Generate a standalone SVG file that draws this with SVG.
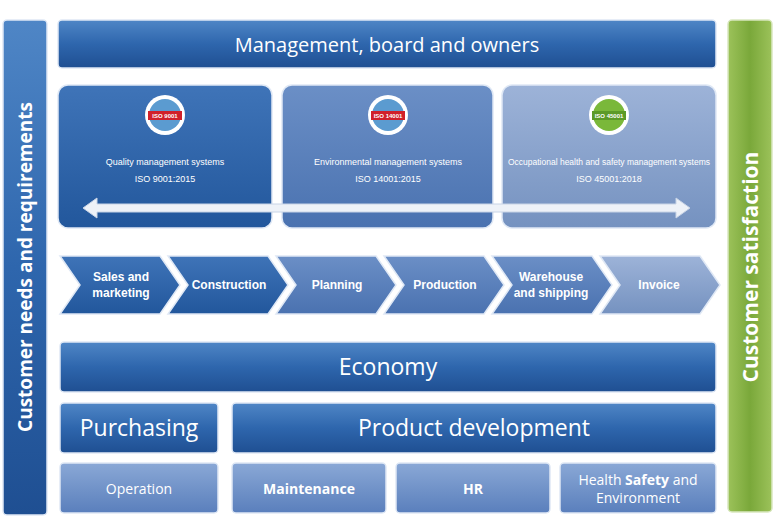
<svg xmlns="http://www.w3.org/2000/svg" width="777" height="526" viewBox="0 0 777 526">
<defs>
<linearGradient id="gb" x1="0" y1="0" x2="0" y2="1"><stop offset="0" stop-color="#4f86c6"/><stop offset="0.5" stop-color="#2e66ad"/><stop offset="1" stop-color="#1f4f92"/></linearGradient>
<linearGradient id="gl" x1="0" y1="0" x2="0" y2="1"><stop offset="0" stop-color="#8aa8d6"/><stop offset="1" stop-color="#5a7fbc"/></linearGradient>
<linearGradient id="gg" x1="0" y1="0" x2="1" y2="0"><stop offset="0" stop-color="#9cc25a"/><stop offset="0.5" stop-color="#7aa83a"/><stop offset="1" stop-color="#9cc25a"/></linearGradient>
<linearGradient id="b1" x1="0" y1="0" x2="0" y2="1"><stop offset="0" stop-color="#3f74b8"/><stop offset="1" stop-color="#22579c"/></linearGradient>
<linearGradient id="b2" x1="0" y1="0" x2="0" y2="1"><stop offset="0" stop-color="#6b8fc6"/><stop offset="1" stop-color="#4a72b0"/></linearGradient>
<linearGradient id="b3" x1="0" y1="0" x2="0" y2="1"><stop offset="0" stop-color="#9db3d8"/><stop offset="1" stop-color="#7592c0"/></linearGradient>
</defs>
<style>
.t{font-family:"Open Sans","Liberation Sans",sans-serif;fill:#fff;text-anchor:middle}
.s{font-family:"Liberation Sans",sans-serif;fill:#fff;text-anchor:middle;font-size:9px}
.c{font-family:"Liberation Sans",sans-serif;fill:#fff;text-anchor:middle;font-size:12px;font-weight:bold}
.bx{stroke:#dfe8f5;stroke-width:1.5}
</style>
<g id="left"><rect x="3" y="20" width="44" height="495" rx="4" fill="url(#gb)" class="bx"/><text class="t" font-size="19" font-weight="bold" transform="translate(32,267) rotate(-90)">Customer needs and requirements</text></g>
<g id="right"><rect x="728" y="20" width="44" height="492" rx="4" fill="url(#gg)" stroke="#d9e8c0" stroke-width="1.5"/><text class="t" font-size="21" font-weight="bold" transform="translate(758,267) rotate(-90)">Customer satisfaction</text></g>
<g id="mgmt"><rect x="58" y="20" width="658" height="48" rx="4" fill="url(#gb)" class="bx"/><text class="t" x="387" y="52" font-size="20">Management, board and owners</text></g>
<g id="qms"><rect x="58" y="85" width="214" height="143" rx="10" fill="url(#b1)" class="bx"/>
<circle cx="165" cy="115" r="20" fill="#fff"/><circle cx="165" cy="115" r="16" fill="#5b9bd0"/><rect x="148" y="111" width="34" height="9" fill="#d0202a"/><text x="165" y="118" font-family="Liberation Sans,sans-serif" font-size="6" font-weight="bold" fill="#fff" text-anchor="middle">ISO 9001</text>
<text class="s" x="165" y="165">Quality management systems</text><text class="s" x="165" y="182">ISO 9001:2015</text></g>
<g id="ems"><rect x="282" y="85" width="211" height="143" rx="10" fill="url(#b2)" class="bx"/>
<circle cx="388" cy="115" r="20" fill="#fff"/><circle cx="388" cy="115" r="16" fill="#5b9bd0"/><rect x="371" y="111" width="34" height="9" fill="#d0202a"/><text x="388" y="118" font-family="Liberation Sans,sans-serif" font-size="6" font-weight="bold" fill="#fff" text-anchor="middle">ISO 14001</text>
<text class="s" x="388" y="165">Environmental management systems</text><text class="s" x="388" y="182">ISO 14001:2015</text></g>
<g id="ohs"><rect x="502" y="85" width="214" height="143" rx="10" fill="url(#b3)" class="bx"/>
<circle cx="609" cy="115" r="20" fill="#fff"/><circle cx="609" cy="115" r="16" fill="#7ab83a"/><rect x="592" y="111" width="34" height="9" fill="#5c9a28"/><text x="609" y="118" font-family="Liberation Sans,sans-serif" font-size="6" font-weight="bold" fill="#fff" text-anchor="middle">ISO 45001</text>
<text class="s" x="609" y="165" font-size="8.3" textLength="202" lengthAdjust="spacingAndGlyphs" style="font-size:8.3px">Occupational health and safety management systems</text><text class="s" x="609" y="182">ISO 45001:2018</text></g>
<g id="connectors"><path d="M83,208 L97,198 L97,204 L676,204 L676,198 L690,208 L676,218 L676,212 L97,212 L97,218 Z" fill="#eef2f8" stroke="#c8d4e6"/></g>
<g id="chevrons">
<path d="M60,256 H160 L180,285 L160,314 H60 L80,285 Z" fill="url(#b1)" class="bx"/><text class="c" x="121" y="281">Sales and</text><text class="c" x="121" y="297">marketing</text>
<path d="M168,256 H268 L288,285 L268,314 H168 L188,285 Z" fill="url(#b1)" class="bx"/><text class="c" x="229" y="289">Construction</text>
<path d="M276,256 H376 L396,285 L376,314 H276 L296,285 Z" fill="url(#b2)" class="bx"/><text class="c" x="337" y="289">Planning</text>
<path d="M384,256 H484 L504,285 L484,314 H384 L404,285 Z" fill="url(#b2)" class="bx"/><text class="c" x="445" y="289">Production</text>
<path d="M492,256 H592 L612,285 L592,314 H492 L512,285 Z" fill="url(#b2)" class="bx"/><text class="c" x="551" y="281">Warehouse</text><text class="c" x="551" y="297">and shipping</text>
<path d="M600,256 H700 L720,285 L700,314 H600 L620,285 Z" fill="url(#b3)" class="bx"/><text class="c" x="659" y="289">Invoice</text>
</g>
<g id="economy"><rect x="60" y="342" width="656" height="50" rx="4" fill="url(#gb)" class="bx"/><text class="t" x="388" y="375" font-size="23">Economy</text></g>
<g id="purchasing"><rect x="60" y="403" width="158" height="50" rx="4" fill="url(#gb)" class="bx"/><text class="t" x="139" y="436" font-size="23">Purchasing</text></g>
<g id="proddev"><rect x="232" y="403" width="484" height="50" rx="4" fill="url(#gb)" class="bx"/><text class="t" x="474" y="436" font-size="23">Product development</text></g>
<g id="operation"><rect x="60" y="463" width="158" height="50" rx="4" fill="url(#gl)" class="bx"/><text class="t" x="139" y="494" font-size="14">Operation</text></g>
<g id="maintenance"><rect x="232" y="463" width="154" height="50" rx="4" fill="url(#gl)" class="bx"/><text class="t" x="309" y="494" font-size="14" font-weight="bold">Maintenance</text></g>
<g id="hr"><rect x="396" y="463" width="154" height="50" rx="4" fill="url(#gl)" class="bx"/><text class="t" x="473" y="494" font-size="14" font-weight="bold">HR</text></g>
<g id="hse"><rect x="560" y="463" width="156" height="50" rx="4" fill="url(#gl)" class="bx"/><text class="t" x="638" y="485" font-size="14">Health <tspan font-weight="bold">Safety</tspan> and</text><text class="t" x="638" y="503" font-size="14">Environment</text></g>
</svg>
